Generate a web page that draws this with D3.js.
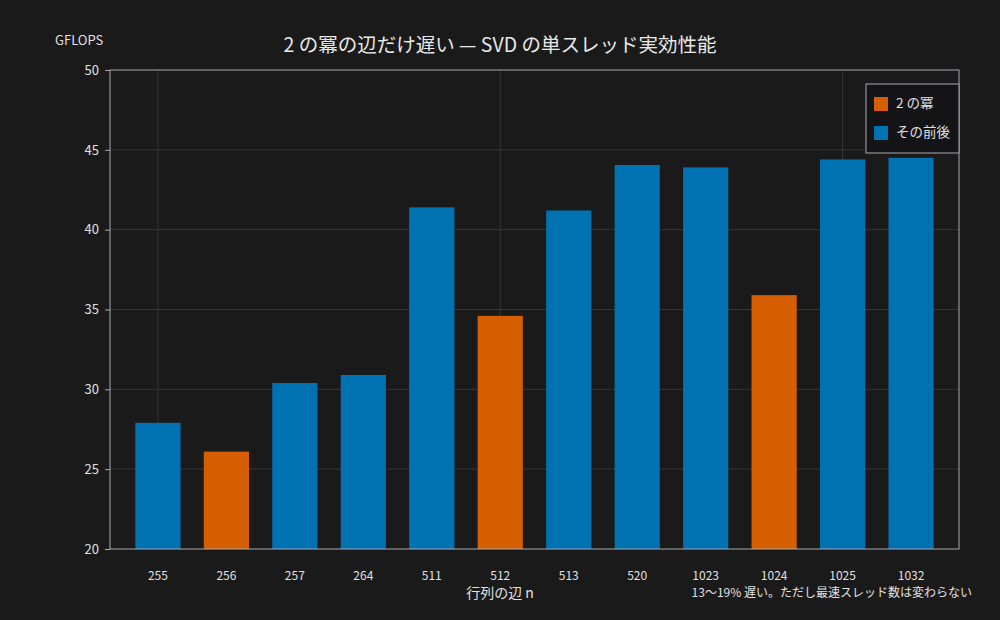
<!DOCTYPE html>
<html>
<head>
<meta charset="utf-8">
<script src="https://cdn.jsdelivr.net/npm/d3@7"></script>
<style>
  body { margin: 0; background: #1a1a1a; }
  text { font-family: "Noto Sans CJK JP", "Noto Sans", sans-serif; }
</style>
</head>
<body>
<div id="chart"></div>
<script>
// データ
const sizes = ["255", "256", "257", "264", "511", "512", "513", "520", "1023", "1024", "1025", "1032"];
const gflops = [27.9, 26.1, 30.4, 30.9, 41.4, 34.6, 41.2, 44.05, 43.9, 35.9, 44.4, 44.5];
const isPow2 = [false, true, false, false, false, true, false, false, false, true, false, false];
const yTicks = [20, 25, 30, 35, 40, 45, 50];
const xGrid = [0, 5, 10];
const legendLabels = ["2 の冪", "その前後"];

const width = 1000, height = 620;
const plotL = 110, plotR = 959, plotT = 70, plotB = 549;
const colPow2 = "#D55E00", colOther = "#0072B2";

const svg = d3.select("#chart").append("svg")
    .attr("width", width)
    .attr("height", height);

svg.append("rect").attr("width", width).attr("height", height).attr("fill", "#1a1a1a");

const x = d3.scaleLinear().domain([-0.7, 11.7]).range([plotL, plotR]);
const y = d3.scaleLinear().domain([20, 50]).range([plotB, plotT]);
const barW = x(0.66) - x(0);

// グリッド
svg.append("g").selectAll("line")
    .data(yTicks.slice(1, -1))
    .enter().append("line")
    .attr("x1", plotL).attr("x2", plotR)
    .attr("y1", d => y(d)).attr("y2", d => y(d))
    .attr("stroke", "#363636").attr("stroke-width", 1);

svg.append("g").selectAll("line")
    .data(xGrid)
    .enter().append("line")
    .attr("x1", d => x(d)).attr("x2", d => x(d))
    .attr("y1", plotT).attr("y2", plotB)
    .attr("stroke", "#363636").attr("stroke-width", 1);

// 棒
svg.append("g").selectAll("rect")
    .data(gflops)
    .enter().append("rect")
    .attr("x", (d, i) => x(i) - barW / 2)
    .attr("width", barW)
    .attr("y", d => y(d))
    .attr("height", d => y(20) - y(d))
    .attr("fill", (d, i) => isPow2[i] ? colPow2 : colOther);

// 枠
svg.append("rect")
    .attr("x", plotL).attr("y", plotT)
    .attr("width", plotR - plotL).attr("height", plotB - plotT)
    .attr("fill", "none").attr("stroke", "#a8a8b0").attr("stroke-width", 1);

// y 軸
const yAxis = svg.append("g")
    .attr("transform", `translate(${plotL},0)`)
    .call(d3.axisLeft(y).tickValues(yTicks).tickSize(5).tickPadding(6));
yAxis.select(".domain").remove();
yAxis.selectAll("line").attr("stroke", "#a8a8b0");
yAxis.selectAll("text").attr("fill", "#e0e0e0").style("font-size", "13px");

// x 軸ラベル
svg.append("g").selectAll("text")
    .data(sizes)
    .enter().append("text")
    .attr("x", (d, i) => x(i))
    .attr("y", 580)
    .attr("text-anchor", "middle")
    .attr("fill", "#e0e0e0")
    .style("font-size", "12px")
    .text(d => d);

svg.append("text")
    .attr("x", 500).attr("y", 598)
    .attr("text-anchor", "middle")
    .attr("fill", "#e0e0e0")
    .style("font-size", "14px")
    .text("行列の辺 n");

svg.append("text")
    .attr("x", 972).attr("y", 597)
    .attr("text-anchor", "end")
    .attr("fill", "#e0e0e0")
    .style("font-size", "12px")
    .text("13〜19% 遅い。ただし最速スレッド数は変わらない");

// タイトル
svg.append("text")
    .attr("x", 500).attr("y", 52)
    .attr("text-anchor", "middle")
    .attr("fill", "#e8e8e8")
    .style("font-size", "19.5px")
    .text("2 の冪の辺だけ遅い — SVD の単スレッド実効性能");

svg.append("text")
    .attr("x", 55).attr("y", 45)
    .attr("fill", "#e0e0e0")
    .style("font-size", "13px")
    .text("GFLOPS");

// 凡例
const legend = svg.append("g");
legend.append("rect")
    .attr("x", 866).attr("y", 84)
    .attr("width", 93).attr("height", 69)
    .attr("fill", "#141417")
    .attr("stroke", "#a8a8b0").attr("stroke-width", 1);

const item = legend.selectAll("g.item")
    .data(legendLabels)
    .enter().append("g")
    .attr("class", "item")
    .attr("transform", (d, i) => `translate(874,${97 + i * 29})`);
item.append("rect")
    .attr("width", 14).attr("height", 14)
    .attr("fill", (d, i) => i === 0 ? colPow2 : colOther);
item.append("text")
    .attr("x", 22).attr("y", 11)
    .attr("fill", "#e0e0e0")
    .style("font-size", "13.5px")
    .text(d => d);
</script>
</body>
</html>
